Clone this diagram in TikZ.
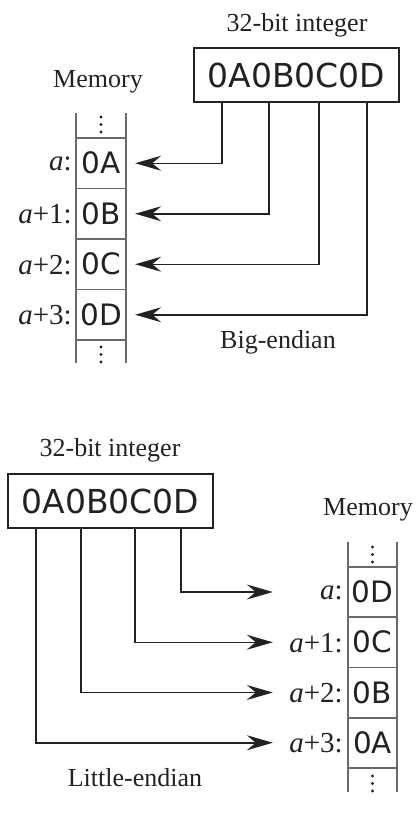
\documentclass[tikz,border=0pt]{standalone}
\usepackage{fontspec}
\setmainfont{Liberation Serif}
\newfontfamily\hexfont{DejaVu Sans}
\usetikzlibrary{arrows.meta}
\definecolor{ink}{HTML}{222222}
\definecolor{colgray}{HTML}{6A6A6A}
\tikzset{
  lbl/.style={font=\fontsize{26}{28}\selectfont, text=ink, inner sep=0pt},
  intbox/.style={draw=ink, line width=1.8pt, minimum width=205pt, minimum height=54pt, inner sep=0pt, font=\hexfont\fontsize{33}{35}\selectfont, text=ink},
  cell/.style={minimum width=44pt, minimum height=44pt, inner sep=0pt, font=\hexfont\fontsize{29.5}{31}\selectfont, text=ink},
  addr/.style={font=\fontsize{29}{31}\selectfont, text=ink, inner sep=0pt, anchor=east},
  colline/.style={draw=colgray, line width=1.5pt},
  arr/.style={draw=ink, line width=1.5pt, -{Stealth[length=26pt,width=15pt,inset=9pt]}},
  dotmark/.style={fill=ink, draw=none, circle, inner sep=0pt, minimum size=3.2pt}
}
\begin{document}
\begin{tikzpicture}[x=1pt,y=-1pt]
\useasboundingbox (0,0) rectangle (419,828);
% ---------- Big-endian ----------
\node[lbl] (t1) at (297,25) {32-bit integer};
\node[intbox] (i1) at (296.5,75) {0A0B0C0D};
\node[lbl] (m1) at (98,82) {Memory};
\node[cell] (a1) at (101,163.25) {0A};
\node[cell] (b1) at (101,213.75) {0B};
\node[cell] (c1) at (101,264.25) {0C};
\node[cell] (d1) at (101,314.75) {0D};
\draw[colline] (76,113) -- (76,363) (126,113) -- (126,363);
\draw[colline] (76,138) -- (126,138) (76,188.5) -- (126,188.5) (76,239) -- (126,239) (76,289.5) -- (126,289.5) (76,340) -- (126,340);
\foreach \yy [count=\k] in {117,124.5,132} \node[dotmark] (dt1\k) at (101,\yy) {};
\foreach \yy [count=\k] in {347,354.5,362} \node[dotmark] (db1\k) at (101,\yy) {};
\node[addr] (la1) at (72,164) {\textit{a}:};
\node[addr] (lb1) at (72,214) {\textit{a}+1:};
\node[addr] (lc1) at (72,265) {\textit{a}+2:};
\node[addr] (ld1) at (72,315) {\textit{a}+3:};
\draw[arr] (i1.south -| 222,0) |- ([xshift=12pt]a1.east);
\draw[arr] (i1.south -| 269,0) |- ([xshift=12pt]b1.east);
\draw[arr] (i1.south -| 319,0) |- ([xshift=12pt]c1.east);
\draw[arr] (i1.south -| 367,0) |- ([xshift=12pt]d1.east);
\node[lbl] (be) at (278,342) {Big-endian};
% ---------- Little-endian ----------
\node[lbl] (t2) at (110,450) {32-bit integer};
\node[intbox] (i2) at (110.5,501) {0A0B0C0D};
\node[lbl] (m2) at (368,510) {Memory};
\node[cell] (a2) at (372.5,592) {0D};
\node[cell] (b2) at (372.5,642.25) {0C};
\node[cell] (c2) at (372.5,692.5) {0B};
\node[cell] (d2) at (372.5,742.75) {0A};
\draw[colline] (348,542) -- (348,792) (397,542) -- (397,792);
\draw[colline] (348,567) -- (397,567) (348,617) -- (397,617) (348,667.5) -- (397,667.5) (348,718) -- (397,718) (348,768) -- (397,768);
\foreach \yy [count=\k] in {547,554.5,562} \node[dotmark] (dt2\k) at (372.5,\yy) {};
\foreach \yy [count=\k] in {776,783.5,791} \node[dotmark] (db2\k) at (372.5,\yy) {};
\node[addr] (la2) at (343,593) {\textit{a}:};
\node[addr] (lb2) at (343,643) {\textit{a}+1:};
\node[addr] (lc2) at (343,693) {\textit{a}+2:};
\node[addr] (ld2) at (343,743) {\textit{a}+3:};
\draw[arr] (i2.south -| 181,0) |- ([xshift=-77.5pt]a2.west);
\draw[arr] (i2.south -| 135,0) |- ([xshift=-77.5pt]b2.west);
\draw[arr] (i2.south -| 81,0) |- ([xshift=-77.5pt]c2.west);
\draw[arr] (i2.south -| 36,0) |- ([xshift=-77.5pt]d2.west);
\node[lbl] (le) at (135,778) {Little-endian};
\end{tikzpicture}
\end{document}
